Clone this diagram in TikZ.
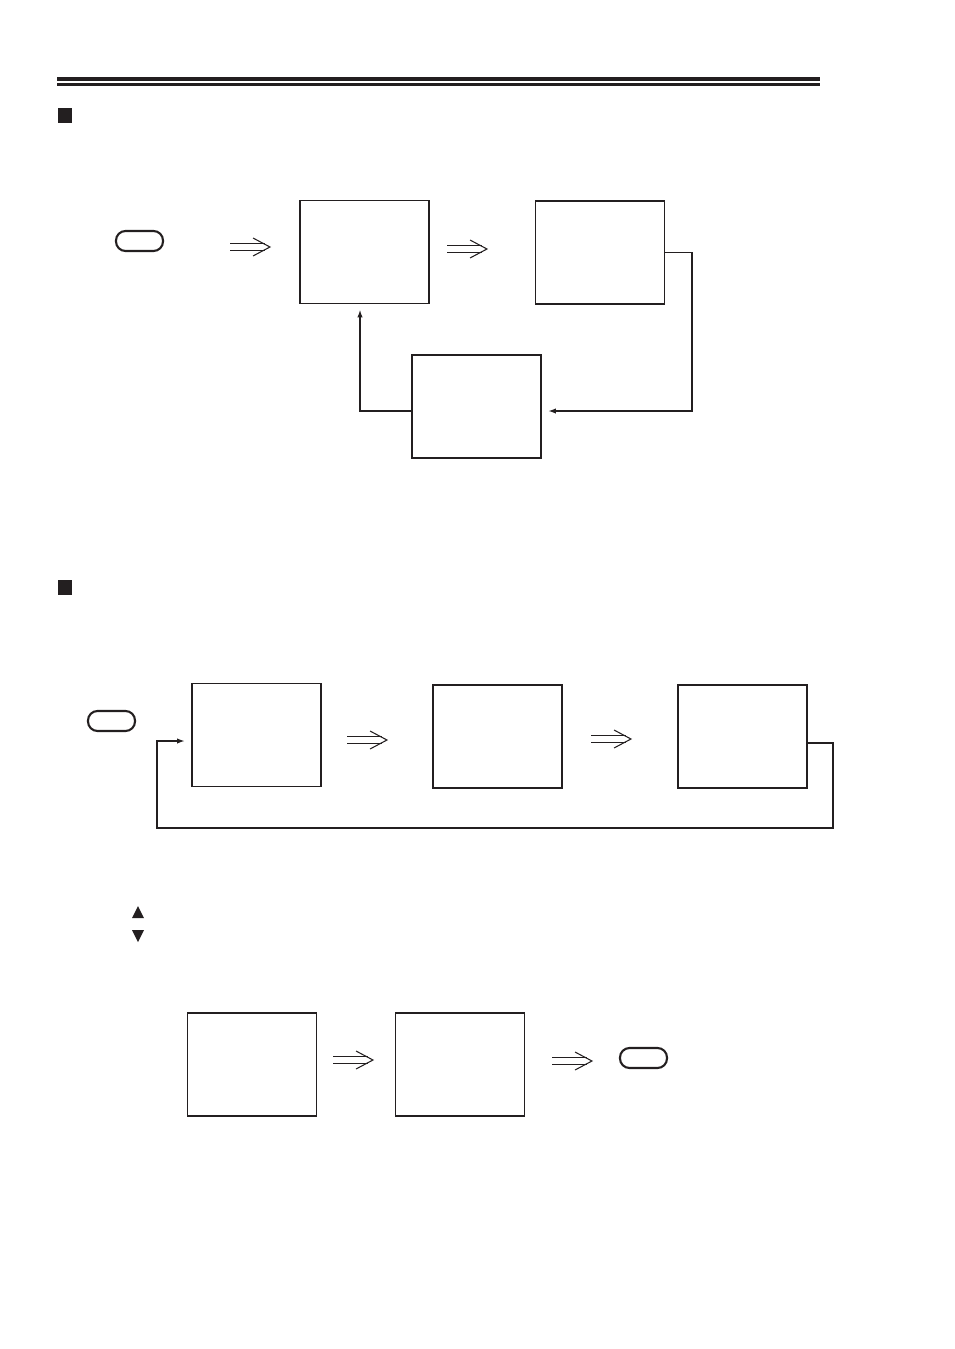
\documentclass[tikz,border=0pt]{standalone}
\usetikzlibrary{arrows.meta}
\definecolor{ink}{RGB}{35,31,32}
\begin{document}
\begin{tikzpicture}[x=0.02cm,y=-0.02cm,
  box/.style={draw=ink,line width=1.1pt,minimum width=2.58cm,minimum height=2.06cm,inner sep=0pt},
  btn/.style={draw=ink,line width=1.2pt,rounded corners=0.19cm,minimum width=0.94cm,minimum height=0.4cm,inner sep=0pt},
  conn/.style={draw=ink,line width=0.9pt},
  tip/.style={-{Latex[length=4.5pt,width=3pt]}},
  bullet/.style={fill=ink,minimum size=0.3cm,inner sep=0pt},
  dblarrow/.pic={
    \draw[ink,line width=0.6pt] (0,-3.5) -- (35,-3.5) (0,3.5) -- (35,3.5);
    \draw[ink,line width=0.6pt] (23,-9) -- (40,0) -- (23,9);
  }]
\useasboundingbox (0,0) rectangle (954,1349);
% header rules
\draw[ink,line width=2pt] (57,79) -- (820,79);
\draw[ink,line width=1.4pt] (57,84.5) -- (820,84.5);
% section bullets
\node[bullet] (sq1) at (65,115.5) {};
\node[bullet] (sq2) at (65,587.5) {};
% ---- top section ----
\node[btn] (b1) at (139.5,241) {};
\pic at (230,247) {dblarrow};
\node[box] (A) at (364.5,252) {};
\pic at (447,249) {dblarrow};
\node[box] (B) at (600,252.5) {};
\node[box] (C) at (476.5,406.5) {};
\coordinate (r1) at (692,411);
\coordinate (l1) at (360,411);
\draw[conn,tip,shorten >=3.4pt] (B.east) -| (r1) -- (C.east |- r1);
\draw[conn,tip,shorten >=2.8pt] (C.west |- l1) -- (l1) -- (l1 |- A.south);
% ---- bottom section ----
\node[btn] (b2) at (111.5,721) {};
\node[box] (D) at (256.5,735) {};
\pic at (347,740) {dblarrow};
\node[box] (E) at (497.5,736.5) {};
\pic at (591,739) {dblarrow};
\node[box] (F) at (742.5,736.5) {};
\coordinate (f1) at (833,743);
\coordinate (f2) at (833,828);
\coordinate (f3) at (157,828);
\coordinate (f4) at (157,741);
\draw[conn,tip,shorten >=3.4pt] (F.east |- f1) -- (f1) -- (f2) -- (f3) -- (f4) -- (D.west |- f4);
% up / down keys
\fill[ink] (132,918) -- (144,918) -- (138,906) -- cycle;
\fill[ink] (132,930) -- (144,930) -- (138,942) -- cycle;
% ---- last row ----
\node[box] (G) at (252,1064.5) {};
\pic at (333,1060) {dblarrow};
\node[box] (H) at (460,1064.5) {};
\pic at (552,1061) {dblarrow};
\node[btn] (b3) at (643.5,1058) {};
\end{tikzpicture}
\end{document}
